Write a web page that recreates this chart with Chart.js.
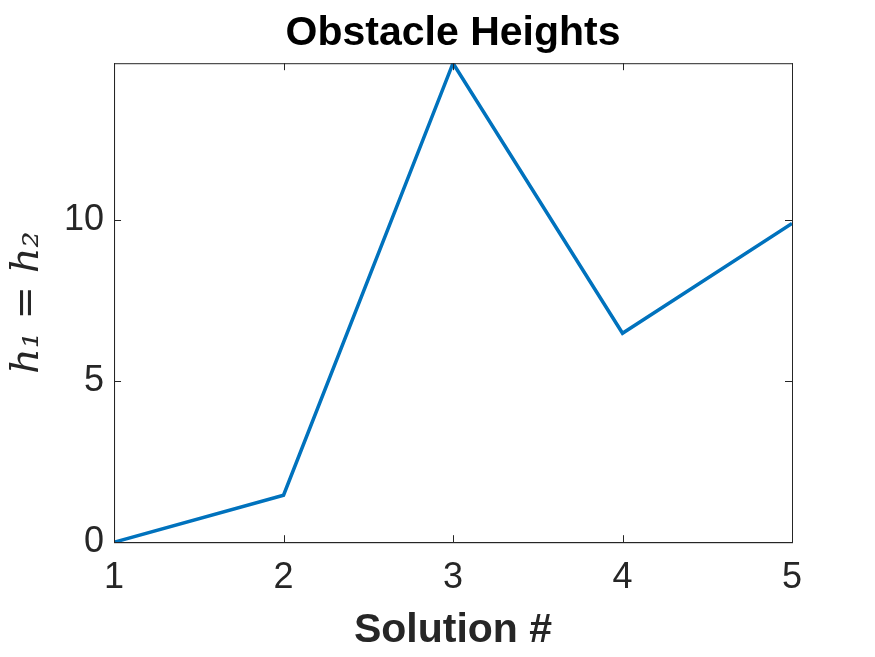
<html>
  <head>
    <title>Obstacle Heights</title>
    <style>
      body { margin: 0; background: #fff; }
    </style>
  </head>
  <body>
    <canvas id="myChart" width="875" height="657"></canvas>
  </body>
</html>

<script src="https://cdn.jsdelivr.net/npm/chart.js"></script>
<script>
  var solutions = [1, 2, 3, 4, 5];
  var heights = [0, 1.46, 14.88, 6.49, 9.9];
  var yTicks = [0, 5, 10];

  var axisColor = '#262626';

  // box around the plot + inward ticks on all four sides, like matlab
  const boxPlugin = {
    id: 'box',
    afterDatasetsDraw(chart) {
      const c = chart.ctx;
      const a = chart.chartArea;
      const xs = chart.scales.x, ys = chart.scales.y;
      c.save();
      c.strokeStyle = axisColor;
      c.lineWidth = 1;
      c.strokeRect(a.left + 0.5, a.top + 0.5, a.right - a.left, a.bottom - a.top);
      c.beginPath();
      solutions.forEach(v => {
        const px = Math.round(xs.getPixelForValue(v)) + 0.5;
        c.moveTo(px, a.bottom); c.lineTo(px, a.bottom - 7);
        c.moveTo(px, a.top); c.lineTo(px, a.top + 7);
      });
      yTicks.forEach(v => {
        const py = Math.round(ys.getPixelForValue(v)) + 0.5;
        c.moveTo(a.left, py); c.lineTo(a.left + 7, py);
        c.moveTo(a.right, py); c.lineTo(a.right - 7, py);
      });
      c.stroke();
      c.restore();
    }
  };

  const ctx = document.getElementById('myChart').getContext('2d');
  const myChart = new Chart(ctx, {
    type: 'line',
    data: {
      datasets: [{
        data: solutions.map((s, i) => ({ x: s, y: heights[i] })),
        borderColor: '#0072BD',
        borderWidth: 3.5,
        pointRadius: 0,
        tension: 0,
        fill: false
      }]
    },
    options: {
      responsive: false,
      animation: false,
      layout: { padding: { left: 4, right: 83, top: 0, bottom: 0 } },
      plugins: {
        legend: { display: false },
        tooltip: { enabled: false },
        title: {
          display: true,
          fullSize: false,
          text: 'Obstacle Heights',
          color: '#000',
          font: { family: 'Liberation Sans, Arial, sans-serif', size: 41, weight: 'bold', lineHeight: 1.2 },
          padding: { top: 9, bottom: 5 }
        }
      },
      scales: {
        x: {
          type: 'linear',
          min: 1,
          max: 5,
          grid: { display: false, drawTicks: false, tickLength: 0 },
          border: { display: true, color: axisColor },
          afterBuildTicks: s => { s.ticks = solutions.map(v => ({ value: v })); },
          ticks: {
            color: axisColor,
            padding: 18,
            font: { family: 'Liberation Sans, Arial, sans-serif', size: 36, lineHeight: 1.0 }
          },
          title: {
            display: true,
            text: 'Solution #',
            color: axisColor,
            font: { family: 'Liberation Sans, Arial, sans-serif', size: 41, weight: 'bold', lineHeight: 0.8 },
            padding: { top: 0, bottom: 10 }
          }
        },
        y: {
          min: 0,
          max: 14.88,
          grid: { display: false, drawTicks: false, tickLength: 0 },
          border: { display: true, color: axisColor },
          afterBuildTicks: s => { s.ticks = yTicks.map(v => ({ value: v })); },
          ticks: {
            color: axisColor,
            padding: 10,
            font: { family: 'Liberation Sans, Arial, sans-serif', size: 36, lineHeight: 1.0 }
          },
          title: {
            display: true,
            text: 'h\u2081 = h\u2082',
            color: axisColor,
            font: { family: 'DejaVu Serif, serif', size: 40, style: 'italic', lineHeight: 1.2 },
            padding: { top: 0, bottom: 2 }
          }
        }
      }
    },
    plugins: [boxPlugin]
  });
</script>
